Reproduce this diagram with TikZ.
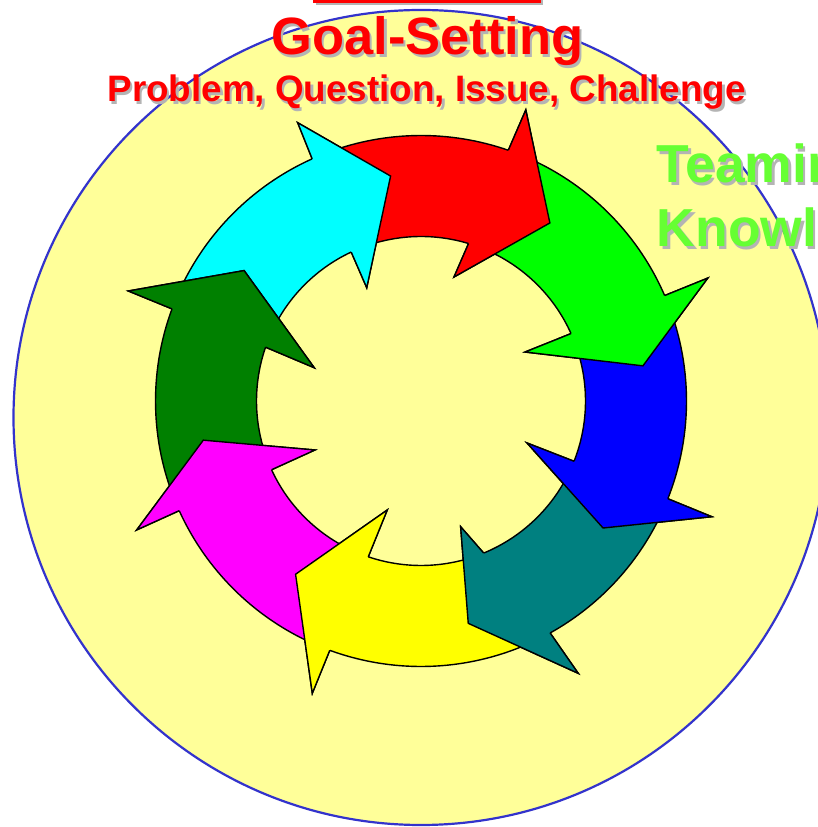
\documentclass[tikz,border=0pt]{standalone}
\usepackage{fontspec}
\setmainfont{Liberation Sans}
\definecolor{pale}{HTML}{FFFF99}
\definecolor{ringblue}{HTML}{3333CC}
\definecolor{cyanc}{HTML}{00FFFF}
\definecolor{redc}{HTML}{FF0000}
\definecolor{greenc}{HTML}{00FF00}
\definecolor{bluec}{HTML}{0000FF}
\definecolor{tealc}{HTML}{008080}
\definecolor{yellowc}{HTML}{FFFF00}
\definecolor{magentac}{HTML}{FF00FF}
\definecolor{dkgreen}{HTML}{008000}
\definecolor{shadowgray}{HTML}{B4B4B4}
\definecolor{lightgreen}{HTML}{66FF33}
\tikzset{
  arrowline/.style={draw=black, line width=1.4pt, line join=miter},
  titlefont/.style={font=\fontsize{52.5}{60}\selectfont\bfseries},
  sidefont/.style={font=\fontsize{53.5}{60}\selectfont\bfseries},
  subfont/.style={font=\fontsize{36.8}{42}\selectfont\bfseries},
}
\begin{document}
\begin{tikzpicture}[x=1pt,y=1pt]
\useasboundingbox (0,0) rectangle (818,827);
\clip (0,0) rectangle (818,827);
\fill[white] (0,0) rectangle (818,827);
% big background circle
\draw[fill=pale, draw=ringblue, line width=2.2pt] (421,409.5) circle[radius=407.5];
% red bar at top with shadow
\fill[shadowgray] (315.5,821.5) rectangle (543,827);
\fill[redc] (313,824) rectangle (540.5,827);
% ring of arrows
\begin{scope}[shift={(421,426)}]
\def\arrowdata{cyanc/155.7/156.9/114.2/115.1/113.9/304.4/97.7/227/115.6/125.6,
redc/110.2/111.1/70.8/73.2/70.2/309.4/54.1/219.8/75.1/128.3,
greenc/66.8/69.2/23.4/24.2/23.2/312/9.0/224.7/25.2/115,
bluec/19.4/20.2/-21.6/-21.5/-21.7/313/-34.9/222/-21.6/114,
tealc/-25.6/-25.5/-60.9/-67.6/-60/314.5/-78/227.3/-72.5/131.8,
yellowc/-64.9/-71.6/-110.1/-108.7/-110.4/311.9/-125.9/213.9/-107.2/114.1,
magentac/-114.1/-112.7/-155.6/-155.3/-155.6/312.2/-169.8/221.2/-155.2/116.8,
dkgreen/-159.6/-159.3/-200.3/-199.1/-200.6/312.7/-216.4/219.8/-197.3/111.8}
% layer 1: whole arrows
\foreach \col/\tailo/\taili/\corno/\corni/\barbo/\barbor/\tipa/\tipr/\barbi/\barbir in \arrowdata {
  \path[arrowline, fill=\col] (\tailo:265.5) arc[start angle=\tailo, end angle=\corno, radius=265.5]
    -- (\barbo:\barbor) -- (\tipa:\tipr) -- (\barbi:\barbir) -- (\corni:164.5)
    arc[start angle=\corni, end angle=\taili, radius=164.5] -- cycle;
}
% layer 2: heads on top of the following arrow's tail
\foreach \col/\tailo/\taili/\corno/\corni/\barbo/\barbor/\tipa/\tipr/\barbi/\barbir in \arrowdata {
  \fill[\col] (\corno:265.5) -- (\barbo:\barbor) -- (\tipa:\tipr) -- (\barbi:\barbir) -- (\corni:164.5) -- cycle;
  \draw[arrowline] (\corno:265.5) -- (\barbo:\barbor) -- (\tipa:\tipr) -- (\barbi:\barbir) -- (\corni:164.5);
}
\end{scope}
% titles with shadows
\node[titlefont, text=shadowgray, anchor=base, inner sep=0pt] (goalsh) at (430,769.5) {Goal-Setting};
\node[titlefont, text=redc, anchor=base, inner sep=0pt] (goal) at (427.5,772) {Goal-Setting};
\node[subfont, text=shadowgray, anchor=base, inner sep=0pt] (probsh) at (429,722.8) {Problem, Question, Issue, Challenge};
\node[subfont, text=redc, anchor=base, inner sep=0pt] (prob) at (426.5,725.3) {Problem, Question, Issue, Challenge};
\node[sidefont, text=shadowgray, anchor=base west, inner sep=0pt] (teamsh) at (659,641.5) {Teaming};
\node[sidefont, text=lightgreen, anchor=base west, inner sep=0pt] (team) at (656.5,644) {Teaming};
\node[sidefont, text=shadowgray, anchor=base west, inner sep=0pt] (knowsh) at (659,577.8) {Knowledge};
\node[sidefont, text=lightgreen, anchor=base west, inner sep=0pt] (know) at (656.5,580.3) {Knowledge};
\end{tikzpicture}
\end{document}
